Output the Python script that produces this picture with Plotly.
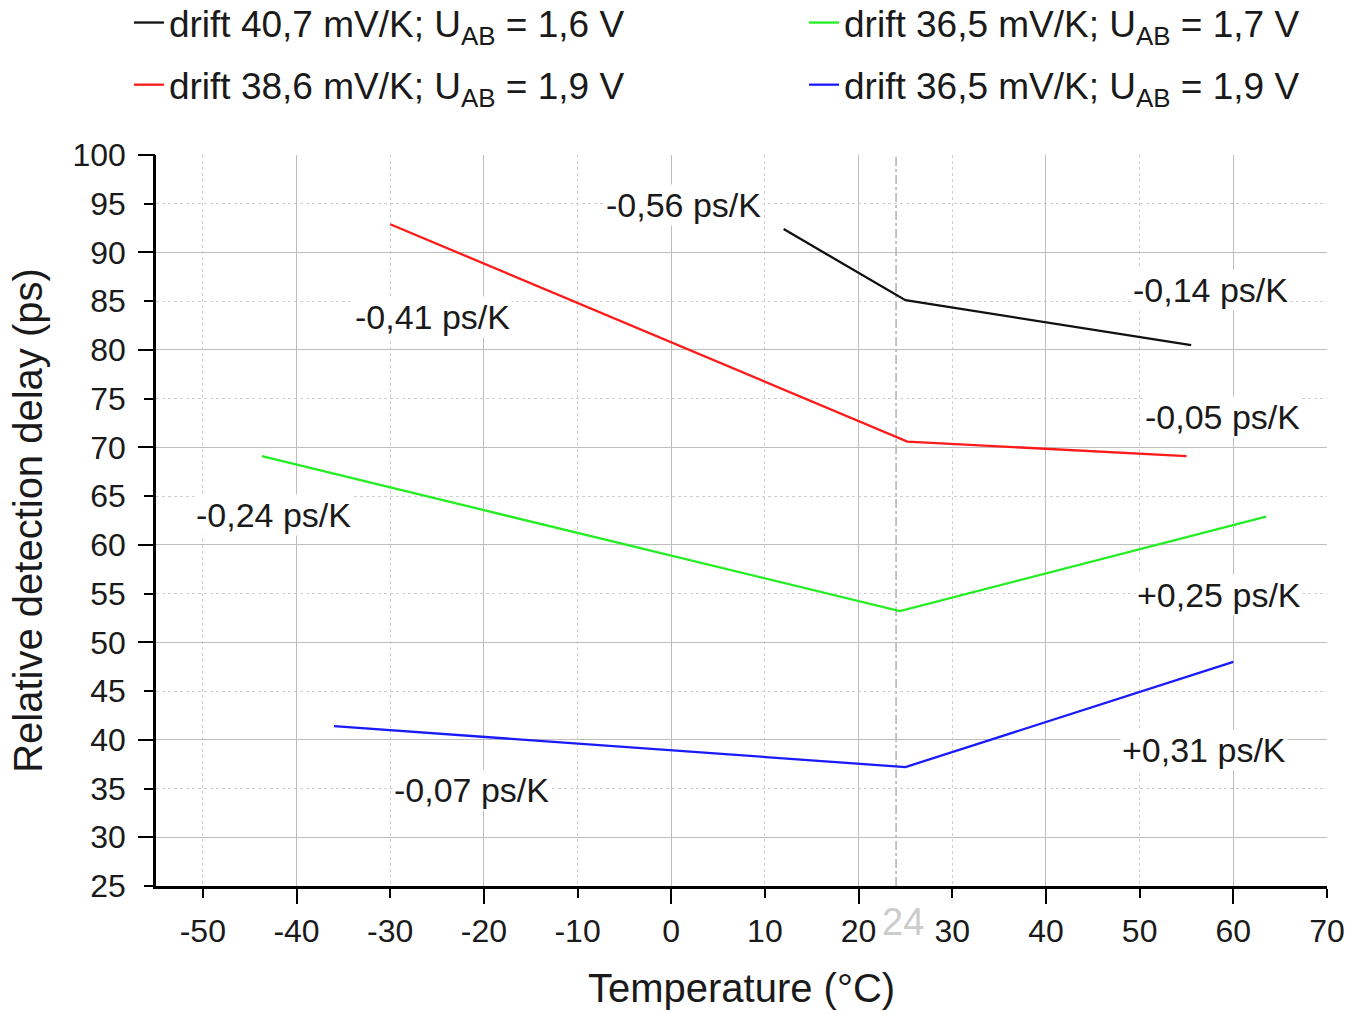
import plotly.graph_objects as go

# ---- data ----
temp_black = [12, 25, 55.5]
delay_black = [92.4, 85.1, 80.5]
temp_red = [-30, 25.2, 55]
delay_red = [92.9, 70.6, 69.1]
temp_green = [-43.7, 24.4, 63.5]
delay_green = [69.1, 53.2, 62.9]
temp_blue = [-36, 25, 60]
delay_blue = [41.4, 37.2, 48]

series_names = [
    "drift 40,7 mV/K; U<sub>AB</sub> = 1,6 V",
    "drift 38,6 mV/K; U<sub>AB</sub> = 1,9 V",
    "drift 36,5 mV/K; U<sub>AB</sub> = 1,7 V",
    "drift 36,5 mV/K; U<sub>AB</sub> = 1,9 V",
]

slope_labels = ["-0,56 ps/K", "-0,41 ps/K", "-0,14 ps/K", "-0,05 ps/K",
                "-0,24 ps/K", "+0,25 ps/K", "+0,31 ps/K", "-0,07 ps/K"]
slope_x = [1.3, -25.5, 57.6, 58.8, -42.5, 58.5, 56.9, -21.3]
slope_y = [94.9, 83.4, 86.15, 73.1, 63.1, 54.9, 39.0, 34.9]

x_tick_vals = [-50, -40, -30, -20, -10, 0, 10, 20, 30, 40, 50, 60, 70]
x_tick_text = ["-50", "-40", "-30", "-20", "-10", "0", "10", "20", "30", "40", "50", "60", "70"]

ref_temp = 24
x_range = [-55, 70]
y_range = [25, 100]

FONT = "Liberation Sans, Arial, sans-serif"
TXT = "#1a1a1a"

fig = go.Figure()

fig.add_trace(go.Scatter(x=temp_black, y=delay_black, mode="lines", name=series_names[0],
                         line=dict(color="#111111", width=2.3), legend="legend2"))
fig.add_trace(go.Scatter(x=temp_red, y=delay_red, mode="lines", name=series_names[1],
                         line=dict(color="#ff1a1a", width=2.3), legend="legend3"))
fig.add_trace(go.Scatter(x=temp_green, y=delay_green, mode="lines", name=series_names[2],
                         line=dict(color="#22ee22", width=2.3), legend="legend4"))
fig.add_trace(go.Scatter(x=temp_blue, y=delay_blue, mode="lines", name=series_names[3],
                         line=dict(color="#1a1aff", width=2.3), legend="legend5"))
# empty trace to carry the overlay axes (major grid / long ticks)
fig.add_trace(go.Scatter(x=[], y=[], xaxis="x2", yaxis="y2", showlegend=False, hoverinfo="skip"))

fig.add_vline(x=ref_temp, line=dict(color="#b0b0b0", width=1.5, dash="dashdot"), layer="below")

for t, xx, yy in zip(slope_labels, slope_x, slope_y):
    fig.add_annotation(x=xx, y=yy, xref="x", yref="y", text=t, showarrow=False,
                       font=dict(family=FONT, size=34, color=TXT), bgcolor="white")

fig.add_annotation(x=ref_temp, y=0, xref="x", yref="paper", text=str(ref_temp), showarrow=False,
                   yanchor="top", yshift=-13, xshift=7,
                   font=dict(family=FONT, size=38, color="#cccccc"))

axis_common = dict(showline=False, zeroline=False)
legend_common = dict(orientation="h", xanchor="left", yanchor="top",
                     bgcolor="rgba(0,0,0,0)", font=dict(family=FONT, size=37, color=TXT))
col1_x = -0.0231
col2_x = 0.5534
row1_y = 1.223
row2_y = 1.138

fig.update_layout(
    width=1349, height=1013, autosize=False,
    margin=dict(l=156, r=22, t=155, b=127, autoexpand=False),
    plot_bgcolor="white", paper_bgcolor="white",
    font=dict(family=FONT, color=TXT),
    xaxis=dict(range=x_range, tickmode="array", tickvals=x_tick_vals, ticktext=x_tick_text,
               ticks="outside", ticklen=9, tickwidth=2,
               tickcolor="black", showline=True, linecolor="black", linewidth=2.5,
               showgrid=True, gridcolor="#d0d0d0", griddash="dot", gridwidth=1,
               zeroline=False, tickfont=dict(family=FONT, size=32, color=TXT),
               ticklabelstandoff=6,
               title=dict(text="Temperature (°C)", font=dict(family=FONT, size=40, color=TXT),
                          standoff=26)),
    yaxis=dict(range=y_range, tick0=0, dtick=5, ticks="outside", ticklen=9, tickwidth=2,
               tickcolor="black", showline=True, linecolor="black", linewidth=2.5,
               showgrid=True, gridcolor="#d0d0d0", griddash="dot", gridwidth=1,
               zeroline=False, tickfont=dict(family=FONT, size=32, color=TXT),
               ticklabelstandoff=12,
               title=dict(text="Relative detection delay (ps)",
                          font=dict(family=FONT, size=40, color=TXT), standoff=18)),
    xaxis2=dict(range=x_range, overlaying="x", anchor="y2", side="bottom", tick0=0, dtick=20,
                ticks="outside", ticklen=17, tickwidth=2, tickcolor="black",
                showticklabels=False, showgrid=True, gridcolor="#bdbdbd", gridwidth=1.2,
                **axis_common),
    yaxis2=dict(range=y_range, overlaying="y", anchor="x2", side="left", tick0=0, dtick=10,
                ticks="outside", ticklen=17, tickwidth=2, tickcolor="black",
                showticklabels=False, showgrid=True, gridcolor="#bdbdbd", gridwidth=1.2,
                **axis_common),
    showlegend=True,
    legend2=dict(x=col1_x, y=row1_y, **legend_common),
    legend3=dict(x=col1_x, y=row2_y, **legend_common),
    legend4=dict(x=col2_x, y=row1_y, **legend_common),
    legend5=dict(x=col2_x, y=row2_y, **legend_common),
)

fig.write_html("out.html")
